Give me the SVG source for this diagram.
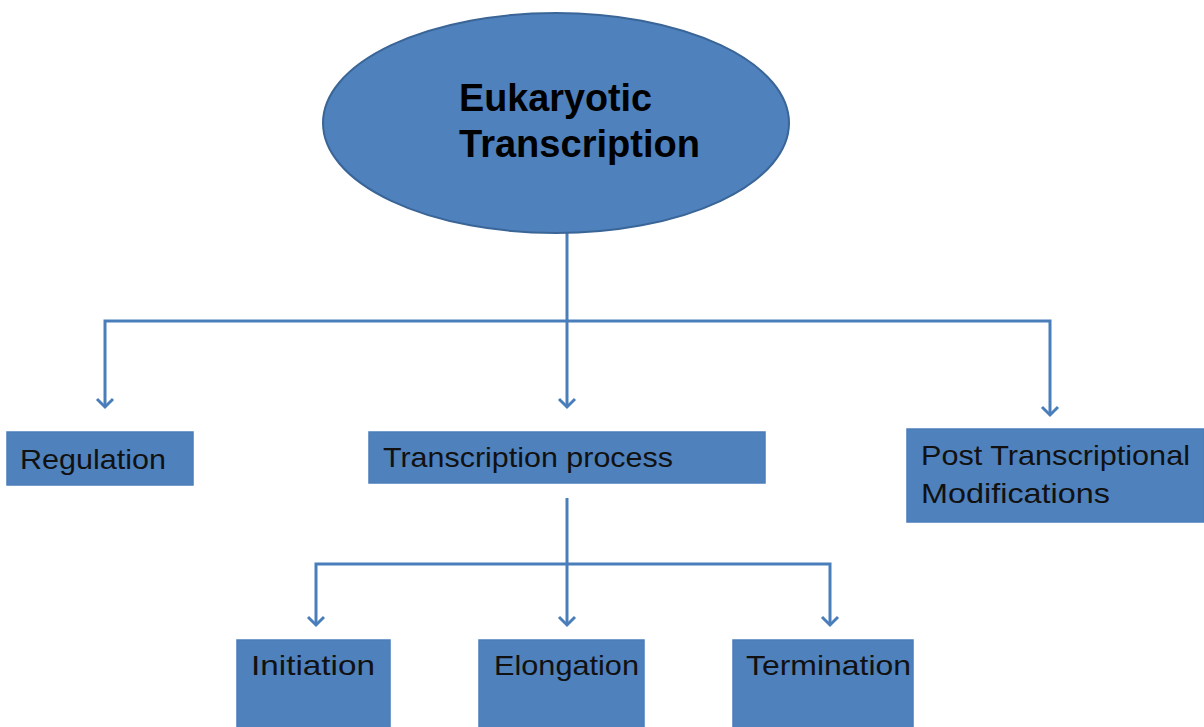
<svg xmlns="http://www.w3.org/2000/svg" width="1204" height="727" viewBox="0 0 1204 727">
<style>
.node{fill:#4F81BD;stroke:#4A7EBB;stroke-width:1.5}
.ell{fill:#4F81BD;stroke:#3A6597;stroke-width:2}
.lbl{font-family:"Liberation Sans",Arial,sans-serif;font-size:28px;fill:#111}
.ttl{font-family:"Liberation Sans",Arial,sans-serif;font-size:38px;font-weight:bold;fill:#000}
.con{fill:none;stroke:#4A7EBB;stroke-width:3}
</style>
<defs>
<marker id="arr" viewBox="0 0 20 20" refX="17" refY="10" markerWidth="20" markerHeight="20" markerUnits="userSpaceOnUse" orient="auto">
<polyline points="9,2 17,10 9,18" fill="none" stroke="#4A7EBB" stroke-width="3"/>
</marker>
</defs>
<rect width="1204" height="727" fill="#fff"/>
<g id="connectors">
<path class="con" d="M567,233 V407" marker-end="url(#arr)"/>
<path class="con" d="M567,321 H1050 V415" marker-end="url(#arr)"/>
<path class="con" d="M567,321 H105 V407" marker-end="url(#arr)"/>
<path class="con" d="M567,498 V625" marker-end="url(#arr)"/>
<path class="con" d="M567,564 H830 V625" marker-end="url(#arr)"/>
<path class="con" d="M567,564 H316 V625" marker-end="url(#arr)"/>
</g>
<g id="root">
<ellipse class="ell" cx="556" cy="123" rx="233" ry="110"/>
<text class="ttl" x="459" y="111" textLength="193" lengthAdjust="spacingAndGlyphs">Eukaryotic</text>
<text class="ttl" x="459" y="157" textLength="241" lengthAdjust="spacingAndGlyphs">Transcription</text>
</g>
<g id="regulation">
<rect class="node" x="7" y="432" width="186" height="53"/>
<text class="lbl" x="20" y="469" textLength="146" lengthAdjust="spacingAndGlyphs">Regulation</text>
</g>
<g id="process">
<rect class="node" x="369" y="432" width="396" height="51"/>
<text class="lbl" x="383" y="467" textLength="290" lengthAdjust="spacingAndGlyphs">Transcription process</text>
</g>
<g id="post">
<rect class="node" x="907" y="429" width="297" height="93"/>
<text class="lbl" x="921" y="465" textLength="269" lengthAdjust="spacingAndGlyphs">Post Transcriptional</text>
<text class="lbl" x="921" y="503" textLength="189" lengthAdjust="spacingAndGlyphs">Modifications</text>
</g>
<g id="initiation">
<rect class="node" x="237" y="640" width="153" height="90"/>
<text class="lbl" x="251" y="675" textLength="124" lengthAdjust="spacingAndGlyphs">Initiation</text>
</g>
<g id="elongation">
<rect class="node" x="479" y="640" width="165" height="90"/>
<text class="lbl" x="494" y="675" textLength="145" lengthAdjust="spacingAndGlyphs">Elongation</text>
</g>
<g id="termination">
<rect class="node" x="733" y="640" width="180" height="90"/>
<text class="lbl" x="746" y="675" textLength="165" lengthAdjust="spacingAndGlyphs">Termination</text>
</g>
</svg>
